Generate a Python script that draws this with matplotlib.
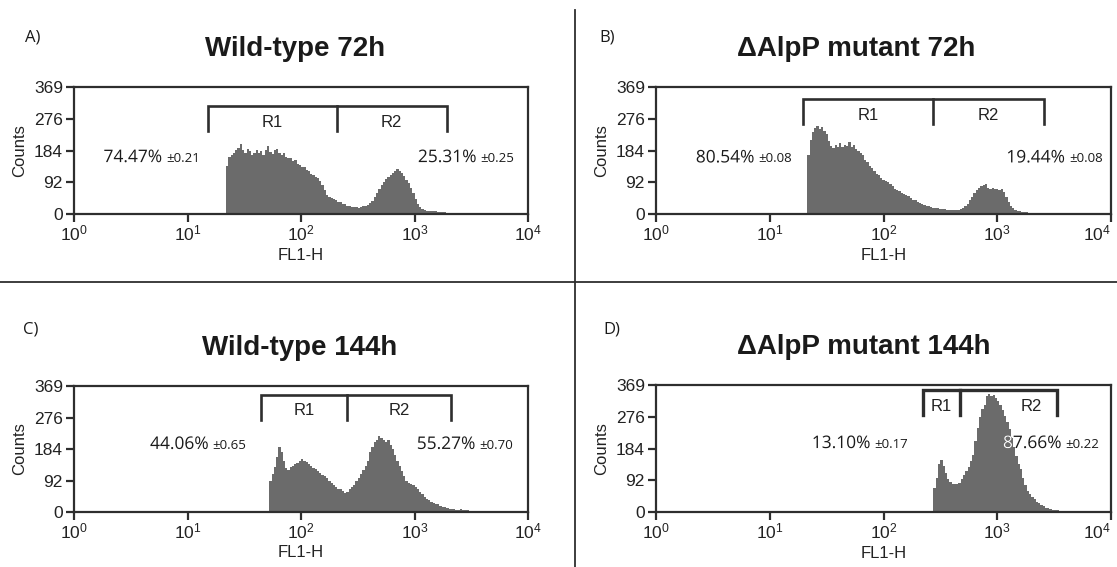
import numpy as np
import matplotlib.pyplot as plt
import matplotlib.transforms as mtransforms
from matplotlib.textpath import TextPath
from matplotlib.patches import PathPatch
from matplotlib.font_manager import FontProperties

W, H = 1117, 567

# histogram channels: 0.02 decade wide, first channel value per panel
step = 0.02

titles = ['Wild-type 72h', 'ΔAlpP mutant 72h', 'Wild-type 144h', 'ΔAlpP mutant 144h']
letters = ['A)', 'B)', 'C)', 'D)']

start_a = 21.9
counts_a = [140, 165, 172, 178, 185, 192, 202, 185, 176, 188, 184, 170, 178, 186, 176, 182,
            172, 186, 198, 180, 175, 186, 190, 178, 172, 176, 166, 162, 164, 154, 156, 146,
            142, 138, 136, 128, 124, 116, 114, 108, 104, 96, 84, 70, 56, 50, 46, 44, 40, 36,
            34, 30, 28, 24, 22, 21, 19, 20, 18, 19, 22, 24, 27, 32, 38, 50, 62, 74, 84, 94,
            102, 108, 112, 118, 124, 130, 126, 120, 110, 100, 90, 76, 62, 44, 30, 20, 14, 11,
            10, 9, 9, 8, 8, 7, 6, 5, 5, 4, 3, 3, 2, 1]
start_b = 21.4
counts_b = [170, 215, 238, 250, 256, 246, 252, 240, 232, 212, 198, 192, 200, 196, 206, 194,
            200, 198, 208, 196, 200, 188, 184, 176, 170, 158, 150, 140, 134, 124, 116, 112,
            104, 100, 96, 92, 88, 80, 74, 70, 66, 62, 58, 56, 52, 46, 42, 40, 36, 32, 30, 27,
            24, 22, 20, 18, 17, 16, 15, 15, 14, 13, 12, 13, 12, 13, 12, 15, 18, 24, 30, 40,
            50, 62, 70, 76, 80, 84, 88, 76, 72, 76, 72, 74, 70, 72, 64, 50, 36, 24, 16, 12,
            10, 8, 7, 6, 5, 4, 4, 3, 3, 2, 2, 2, 2, 1, 1, 1, 4, 1]
start_c = 52.5
counts_c = [90, 110, 132, 160, 190, 176, 150, 128, 124, 132, 136, 140, 144, 150, 154, 148,
            146, 140, 136, 130, 126, 120, 114, 108, 104, 100, 92, 86, 78, 72, 68, 66, 62, 56,
            58, 66, 72, 80, 90, 100, 112, 124, 134, 150, 175, 190, 204, 212, 222, 216, 212,
            206, 212, 196, 184, 166, 150, 134, 120, 104, 92, 86, 82, 78, 74, 68, 60, 52, 44,
            38, 34, 30, 27, 24, 22, 19, 16, 14, 12, 10, 9, 8, 6, 7, 8, 6, 5, 5, 4, 4, 3, 4, 4,
            3, 3, 2, 3, 2, 3, 2, 2, 3, 2, 2, 2]
start_d = 275
counts_d = [70, 100, 140, 152, 135, 112, 95, 86, 80, 82, 80, 84, 96, 108, 118, 132, 148, 165,
            205, 245, 275, 298, 312, 338, 342, 336, 340, 330, 322, 312, 295, 280, 262, 240,
            215, 188, 162, 140, 125, 100, 78, 62, 52, 45, 38, 30, 25, 20, 16, 13, 11, 9, 7, 6,
            5, 4, 4, 4, 3, 4, 3, 3, 2, 3, 4, 2, 2, 2]

starts = [start_a, start_b, start_c, start_d]
counts = [counts_a, counts_b, counts_c, counts_d]

# gate bounds R1 low, R1/R2 split, R2 high
gates = [[15.1, 206, 1920], [19.6, 273, 2560], [44, 255, 2100], [223, 467, 3320]]
pct_r1 = [74.47, 80.54, 44.06, 13.10]
sd_r1 = [0.21, 0.08, 0.65, 0.17]
pct_r2 = [25.31, 19.44, 55.27, 87.66]
sd_r2 = [0.25, 0.08, 0.70, 0.22]

yticks = [0, 92, 184, 276, 369]

# layout (pixels)
boxes = [(74, 87, 528, 214), (656, 87, 1111, 214), (74, 386, 528, 512), (656, 385, 1111, 512)]
title_pos = [(295, 49), (856, 49), (300, 348), (864, 347)]
letter_pos = [(25, 38), (599, 38), (23, 330), (603, 329)]
bracket_off = [19, 12, 9, 5]
text_y = [169, 168, 203, 204]
left_x = [0.26, 0.35, 0.67, 1.37]
right_x = [3.03, 3.08, 3.02, 3.05]
r2_label_x = [None, None, None, 3.30]

dark = '#2e2e2e'
gray = '#6b6b6b'
ink = '#1a1a1a'
pct_font = FontProperties(family='Open Sans', size=12.5)

fig = plt.figure(figsize=(W / 100, H / 100), dpi=100)
fig.patch.set_facecolor('white')
px = fig.dpi / 72


def pct_label(ax, x, y, p, s, clip=None):
    # drawn as a path so the part over the histogram can be shown in white
    tp = TextPath((0, 0), f'{p:.2f}%', prop=pct_font)
    X, Y = ax.transData.transform((x, y))
    base = Y - 0.36 * 12.5 * px
    trans = mtransforms.Affine2D().scale(px).translate(X, base)
    ax.add_patch(PathPatch(tp, transform=trans, facecolor=ink, lw=0, zorder=5))
    if clip is not None:
        wp = PathPatch(tp, transform=trans, facecolor='white', lw=0, zorder=6)
        ax.add_patch(wp)
        wp.set_clip_path(clip)
    w = tp.get_extents().x1
    ax.text(X + (w + 3.5) * px, base, f'±{s:.2f}', transform=mtransforms.IdentityTransform(),
            ha='left', va='baseline', fontsize=9.5, family='Open Sans', color=ink, zorder=5)


for i in range(4):
    x0, y0, x1, y1 = boxes[i]
    ax = fig.add_axes([x0 / W, 1 - y1 / H, (x1 - x0) / W, (y1 - y0) / H])
    ax.set_xscale('log')
    ax.set_xlim(1, 1e4)
    ax.set_ylim(0, 369)

    n = len(counts[i])
    edges = starts[i] * 10 ** (step * np.arange(n + 1))
    hist = ax.stairs(counts[i], edges, fill=True, color=gray, linewidth=0, zorder=2)

    # gate bracket
    top = 369 * (1 - bracket_off[i] / 127)
    bot = top - 72
    lo, mid, hi = gates[i]
    lw = 2.4 if i == 3 else 1.9
    ax.plot([lo, lo, hi, hi], [bot, top, top, bot], color=dark, lw=lw, solid_joinstyle='miter', zorder=3)
    ax.plot([mid, mid], [bot, top], color=dark, lw=lw, zorder=3)
    ly = top - 0.65 * (top - bot)
    ax.text(np.sqrt(lo * mid), ly, 'R1', ha='center', va='center', fontsize=12,
            family='Liberation Sans', color='#222222', zorder=4)
    r2x = np.sqrt(mid * hi) if r2_label_x[i] is None else 10 ** r2_label_x[i]
    ax.text(r2x, ly, 'R2', ha='center', va='center', fontsize=12,
            family='Liberation Sans', color='#222222', zorder=4)

    # percentages
    pct_label(ax, 10 ** left_x[i], text_y[i], pct_r1[i], sd_r1[i])
    pct_label(ax, 10 ** right_x[i], text_y[i], pct_r2[i], sd_r2[i], clip=hist if i == 3 else None)

    ax.set_xticks([1, 10, 100, 1000, 10000])
    ax.minorticks_off()
    ax.set_yticks(yticks)
    ax.tick_params(direction='out', length=6, width=1.6, color=dark, labelsize=12.5,
                   labelcolor='#222222', pad=2)
    ax.tick_params(axis='x', pad=0.5)
    for lab in ax.get_xticklabels() + ax.get_yticklabels():
        lab.set_family('Liberation Sans')
    if x1 > 1100:
        ax.get_xticklabels()[-1].set_ha('right')
    for sp in ax.spines.values():
        sp.set_color(dark)
        sp.set_linewidth(1.6)

    ax.set_xlabel('FL1-H', fontsize=12, family='Liberation Sans', color='#222222')
    ax.xaxis.set_label_coords(0.5, -0.265)
    ax.xaxis.label.set_va('top')
    ax.set_ylabel('Counts', fontsize=12, family='Liberation Sans', color='#222222')
    ax.yaxis.set_label_coords(-47 / 454, 0.5)

    tx, ty = title_pos[i]
    fig.text(tx / W, 1 - ty / H, titles[i], ha='center', va='center', fontsize=20,
             fontweight='bold', family='Liberation Sans', color=ink)
    lx, lyy = letter_pos[i]
    fig.text(lx / W, 1 - lyy / H, letters[i], ha='left', va='center', fontsize=12,
             family='Open Sans', color=ink)

# panel separators
fig.add_artist(plt.Line2D([0, 1], [1 - 282 / H, 1 - 282 / H], color=dark, lw=1.3))
fig.add_artist(plt.Line2D([575 / W, 575 / W], [0, 1 - 10 / H], color=dark, lw=1.3))

fig.savefig('out.png', dpi=100, facecolor='white')
